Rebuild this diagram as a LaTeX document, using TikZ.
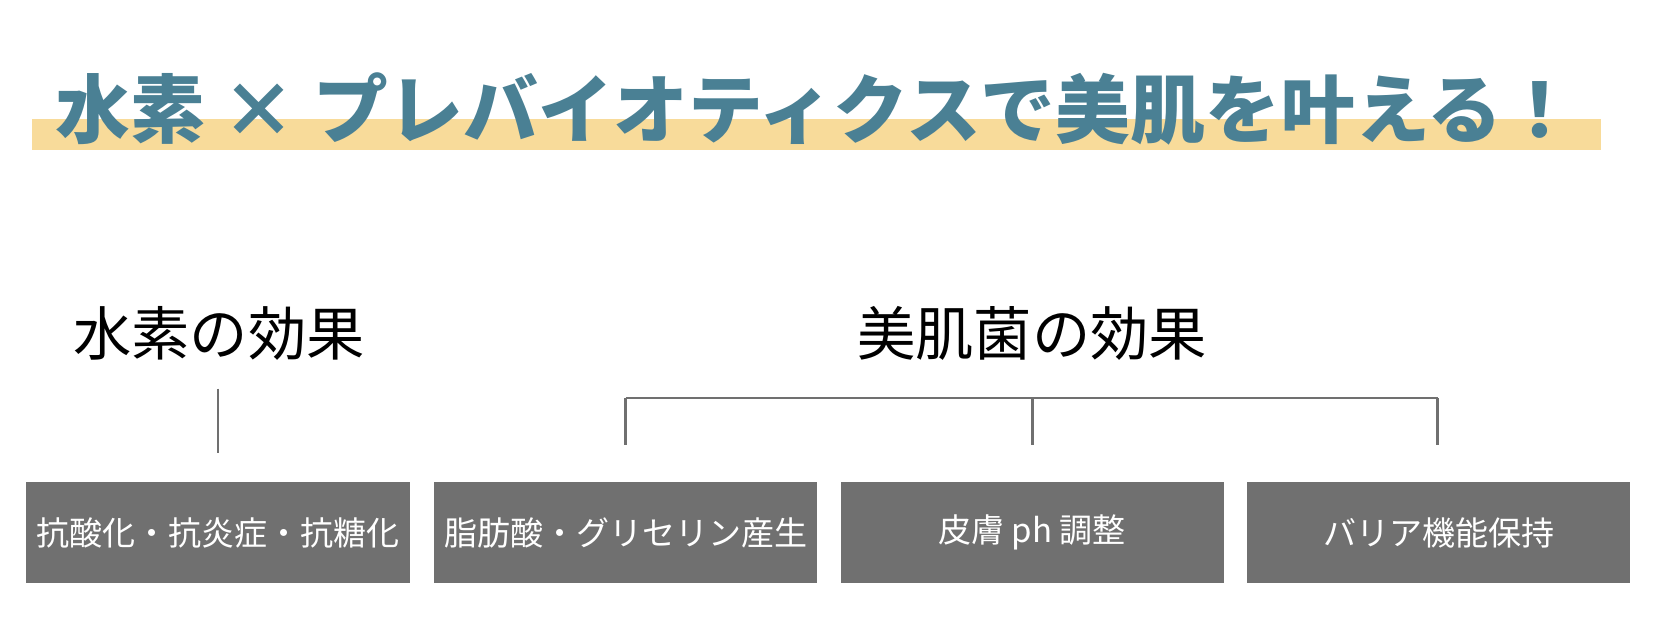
\documentclass[tikz,border=0pt]{standalone}
\usepackage{fontspec}
\newfontfamily\jpfont{Noto Sans CJK JP}
\definecolor{titleblue}{HTML}{4A8094}
\definecolor{bandyellow}{HTML}{F8DB9A}
\definecolor{boxgray}{HTML}{707070}
\tikzset{
  effect/.style={fill=boxgray, text=white, minimum width=3.833cm, minimum height=1.016cm,
    inner sep=0pt, font=\jpfont\fontsize{9.4pt}{11pt}\selectfont},
  heading/.style={font=\jpfont\fontsize{16.6pt}{19pt}\selectfont},
  link/.style={draw=boxgray, line width=0.8pt}
}
\begin{document}
\begin{tikzpicture}[x=0.010587cm,y=-0.010587cm]
  \useasboundingbox (0,0) rectangle (1568,602.6);
  % title
  \fill[bandyellow] (30,112) rectangle (1512,142);
  \node[font=\jpfont\bfseries\fontsize{21.3pt}{24pt}\selectfont, text=titleblue] (title) at (771,103)
    {水素 × プレバイオティクスで美肌を叶える！};
  % headings
  \node[heading] (h2) at (207,315) {水素の効果};
  \node[heading] (bio) at (975,315) {美肌菌の効果};
  % effects
  \node[effect] (anti) at (206,503) {抗酸化・抗炎症・抗糖化};
  \node[effect] (fat) at (591,503) {脂肪酸・グリセリン産生};
  \node[effect] (ph) at (975,503) {皮膚 ph 調整};
  \node[effect] (barrier) at (1359,503) {バリア機能保持};
  \coordinate (a1) at (206,367);
  \coordinate (a2) at (206,428);
  \coordinate (b1) at (591,376);
  \coordinate (b2) at (975,376);
  \coordinate (b3) at (1358,376);
  \begin{scope}[link]
    \draw (a1) -- (a2);
    \draw (b1) -- (b3);
    \draw (b1) -- ++(0,44);
    \draw (b2) -- ++(0,44);
    \draw (b3) -- ++(0,44);
  \end{scope}
\end{tikzpicture}
\end{document}
